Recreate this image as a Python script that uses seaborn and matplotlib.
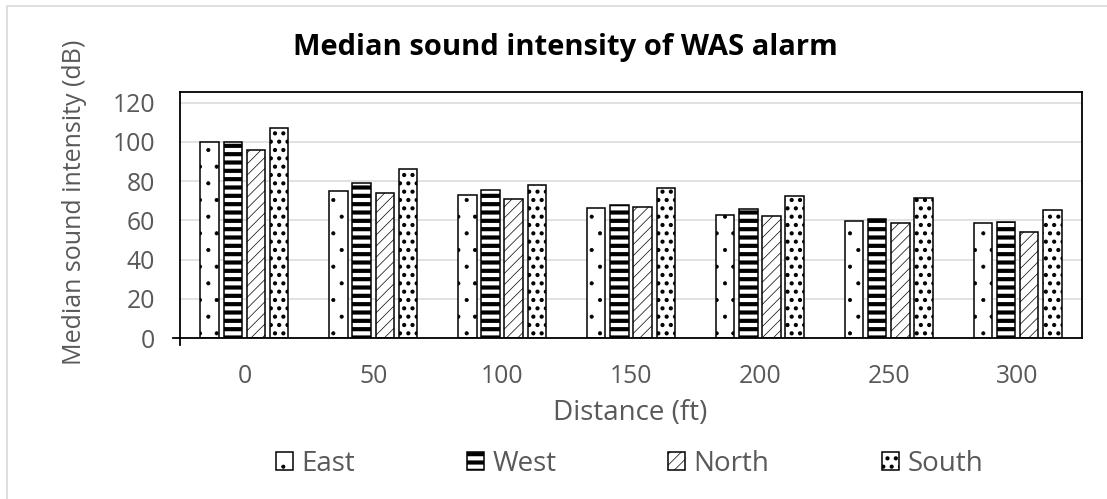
import matplotlib
matplotlib.use("Agg")
import matplotlib.pyplot as plt
from matplotlib.patches import Rectangle
from matplotlib.ticker import FixedLocator
import seaborn as sns
import pandas as pd

# values
distances = ["0", "50", "100", "150", "200", "250", "300"]
east = [100, 75, 73, 66.5, 63, 59.5, 58.5]
west = [100, 79, 75.5, 68, 66, 60.5, 59]
north = [96, 74, 71, 67, 62, 58.5, 54]
south = [107, 86, 78, 76.5, 72.5, 71.5, 65.5]
directions = ["East", "West", "North", "South"]

hatches = {"East": ".", "West": "--", "North": "///", "South": ".."}
hatch_lw = {"East": 0.5, "West": 3.0, "North": 0.5, "South": 1.8}

df = pd.DataFrame({
    "Distance": distances * 4,
    "Direction": [d for d in directions for _ in distances],
    "Intensity": east + west + north + south,
})

sns.set_style("white")
plt.rcParams["font.family"] = ["Open Sans", "DejaVu Sans"]

W, H = 1107, 499
fig = plt.figure(figsize=(W / 100, H / 100), dpi=100)
ax = fig.add_axes([180 / W, 1 - 338 / H, (1082 - 180) / W, (338 - 92) / H])

sns.barplot(data=df, x="Distance", y="Intensity", hue="Direction",
            hue_order=directions, order=distances,
            palette=["white"] * 4, edgecolor="black", linewidth=1.1,
            width=0.72, gap=0.2, errorbar=None, legend=False, ax=ax)

def style_patch(p, name):
    p.set_hatch(hatches[name])
    if hasattr(p, "set_hatch_linewidth"):
        p.set_hatch_linewidth(hatch_lw[name])

for cont, name in zip(ax.containers, directions):
    for p in cont.patches:
        style_patch(p, name)

ax.set_ylim(0, 125.5)
ax.set_xlim(-0.5, len(distances) - 0.5)
ax.set_yticks(range(0, 121, 20))
ax.yaxis.grid(True, color="#d9d9d9", linewidth=1.1)
ax.set_axisbelow(True)
for s in ax.spines.values():
    s.set_color("black")
    s.set_linewidth(1.3)
# axis lines cross a little past the origin, as in the reference
ax.spines["left"].set_bounds(-3.6, 125.5)
ax.spines["bottom"].set_bounds(-0.555, len(distances) - 0.5)

ax.tick_params(axis="y", direction="out", length=7, width=1.2, color="black",
               labelsize=17.8, labelcolor="#595959", pad=11)
ax.tick_params(axis="x", which="major", length=0, labelsize=17.8,
               labelcolor="#595959", pad=19)
ax.xaxis.set_minor_locator(FixedLocator([i - 0.5 for i in range(len(distances) + 1)]))
ax.tick_params(axis="x", which="minor", direction="out", length=5.5, width=1.2, color="black")

ax.set_xlabel("Distance (ft)", fontsize=20, color="#595959")
ax.set_ylabel("Median sound intensity (dB)", fontsize=18, color="#595959")
ax.xaxis.label.set(va="center", ha="center")
ax.xaxis.set_label_coords((630 - 180) / 902, -(413 - 338) / 246)
ax.yaxis.label.set(va="center", ha="center", rotation_mode="default")
ax.yaxis.set_label_coords((75 - 180) / 902, (338 - 202) / 246)

fig.text(565 / W, 1 - 48 / H, "Median sound intensity of WAS alarm",
         ha="center", va="center", fontsize=21, fontweight="bold", color="black")

# one legend per entry, spaced like the reference
legend_x = [276, 467, 668, 882]
for cont, name, lx in zip(ax.containers, directions, legend_x):
    leg = fig.legend([cont], [name], loc="center left",
                     bbox_to_anchor=(lx / W, 1 - 464 / H), frameon=False,
                     fontsize=20, handlelength=0.62, handleheight=0.62,
                     handletextpad=0.3, borderpad=0, borderaxespad=0,
                     labelcolor="#595959")
    for h in leg.legend_handles:
        style_patch(h, name)

# light chart-area border
fig.patches.append(Rectangle((7 / W, -0.1), 2, 1.1 - 6 / H, transform=fig.transFigure,
                             fill=False, edgecolor="#d9d9d9", linewidth=1.2))

fig.savefig("out.png", dpi=100)
